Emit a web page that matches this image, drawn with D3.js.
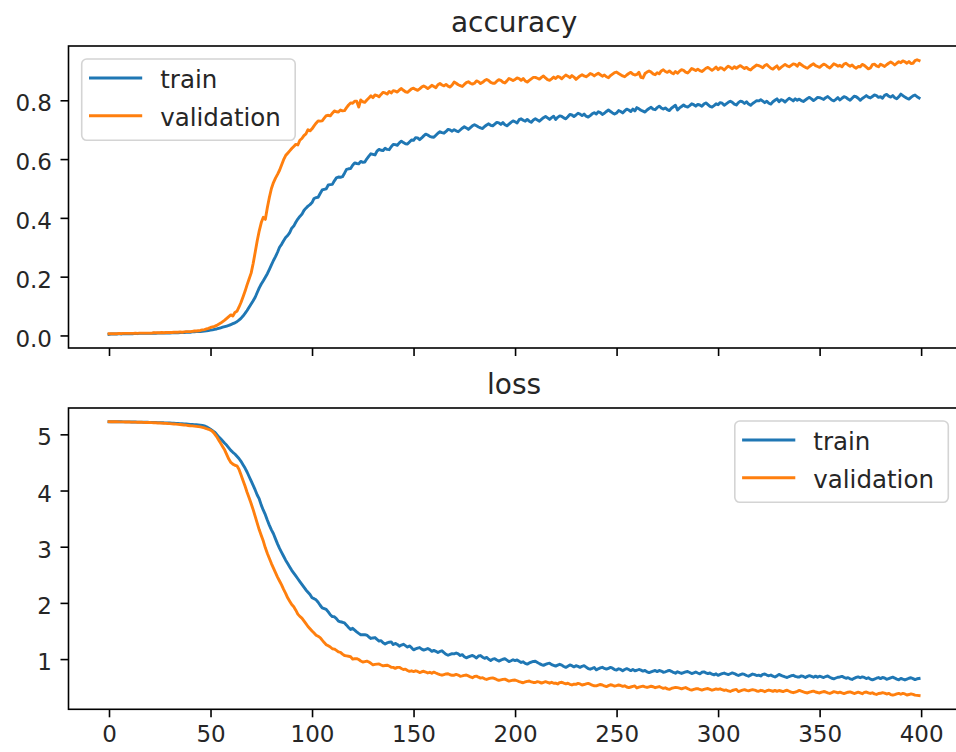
<!DOCTYPE html>
<html>
<head>
<meta charset="utf-8">
<script src="https://cdn.jsdelivr.net/npm/d3@7/dist/d3.min.js"></script>
<style>
  body { margin: 0; background: #fff; }
  svg { display: block; }
  text { font-family: "DejaVu Sans", sans-serif; fill: #262626; }
</style>
</head>
<body>
<svg id="chart" width="956" height="752"></svg>
<script>
// ---- training history, one value per epoch (0..399) ----
const epochs = d3.range(400);

const accTrain = [
0.004,0.005,0.005,0.005,0.005,0.006,0.005,0.006,0.006,0.006,
0.006,0.006,0.006,0.007,0.006,0.007,0.007,0.007,0.007,0.007,
0.007,0.007,0.008,0.007,0.008,0.008,0.008,0.008,0.008,0.009,
0.008,0.009,0.009,0.009,0.009,0.010,0.010,0.010,0.011,0.011,
0.011,0.012,0.012,0.013,0.013,0.013,0.014,0.015,0.016,0.017,
0.018,0.019,0.021,0.022,0.024,0.026,0.028,0.030,0.032,0.034,
0.037,0.040,0.043,0.047,0.052,0.058,0.066,0.075,0.085,0.096,
0.107,0.118,0.130,0.146,0.162,0.175,0.186,0.198,0.210,0.225,
0.240,0.255,0.268,0.283,0.300,0.310,0.322,0.333,0.340,0.350,
0.365,0.372,0.385,0.396,0.405,0.412,0.425,0.433,0.440,0.445,
0.452,0.466,0.469,0.470,0.483,0.495,0.497,0.499,0.512,0.513,
0.514,0.526,0.536,0.539,0.538,0.540,0.552,0.565,0.567,0.568,
0.579,0.587,0.585,0.584,0.592,0.589,0.590,0.601,0.610,0.618,
0.616,0.614,0.627,0.633,0.630,0.629,0.637,0.633,0.632,0.642,
0.650,0.649,0.647,0.655,0.661,0.656,0.652,0.651,0.658,0.665,
0.664,0.673,0.672,0.666,0.672,0.679,0.685,0.682,0.677,0.675,
0.674,0.681,0.688,0.693,0.690,0.688,0.694,0.701,0.699,0.695,
0.700,0.696,0.693,0.699,0.705,0.710,0.706,0.701,0.707,0.713,
0.717,0.713,0.709,0.706,0.704,0.711,0.716,0.720,0.715,0.713,
0.719,0.725,0.723,0.718,0.724,0.717,0.713,0.719,0.725,0.730,
0.727,0.723,0.734,0.737,0.732,0.729,0.735,0.729,0.725,0.733,
0.737,0.733,0.729,0.735,0.741,0.745,0.740,0.735,0.741,0.746,
0.735,0.742,0.747,0.745,0.740,0.737,0.744,0.752,0.750,0.745,
0.750,0.756,0.753,0.748,0.753,0.746,0.743,0.748,0.754,0.758,
0.753,0.761,0.758,0.752,0.756,0.762,0.767,0.762,0.757,0.753,
0.757,0.765,0.762,0.757,0.764,0.770,0.767,0.762,0.770,0.764,
0.775,0.771,0.766,0.763,0.760,0.767,0.772,0.776,0.770,0.768,
0.775,0.780,0.774,0.770,0.774,0.768,0.765,0.773,0.778,0.783,
0.767,0.774,0.779,0.784,0.779,0.777,0.782,0.788,0.785,0.780,
0.786,0.784,0.780,0.787,0.791,0.785,0.779,0.777,0.782,0.788,
0.785,0.792,0.790,0.783,0.788,0.793,0.797,0.793,0.787,0.784,
0.792,0.797,0.795,0.789,0.795,0.787,0.783,0.789,0.794,0.799,
0.798,0.802,0.797,0.792,0.797,0.790,0.787,0.795,0.800,0.805,
0.795,0.802,0.800,0.794,0.801,0.807,0.803,0.798,0.805,0.800,
0.804,0.799,0.796,0.801,0.806,0.810,0.805,0.799,0.804,0.810,
0.809,0.806,0.803,0.809,0.813,0.807,0.801,0.798,0.803,0.809,
0.801,0.807,0.812,0.810,0.804,0.800,0.807,0.814,0.812,0.807,
0.800,0.806,0.811,0.816,0.811,0.808,0.813,0.818,0.816,0.810,
0.812,0.807,0.817,0.820,0.814,0.811,0.816,0.809,0.805,0.812,
0.821,0.816,0.811,0.807,0.804,0.810,0.815,0.818,0.812,0.808
];

const accVal = [
0.006,0.006,0.006,0.006,0.006,0.007,0.006,0.007,0.007,0.007,
0.007,0.007,0.007,0.008,0.007,0.008,0.008,0.008,0.008,0.008,
0.008,0.008,0.009,0.009,0.009,0.009,0.010,0.009,0.010,0.010,
0.010,0.010,0.011,0.011,0.011,0.012,0.011,0.012,0.013,0.013,
0.013,0.014,0.015,0.015,0.016,0.017,0.019,0.020,0.022,0.024,
0.027,0.029,0.031,0.034,0.038,0.042,0.047,0.052,0.058,0.064,
0.070,0.066,0.078,0.082,0.096,0.112,0.131,0.150,0.172,0.192,
0.212,0.245,0.283,0.322,0.356,0.384,0.402,0.395,0.435,0.470,
0.500,0.520,0.535,0.548,0.562,0.580,0.598,0.612,0.620,0.628,
0.636,0.643,0.650,0.648,0.664,0.670,0.680,0.686,0.700,0.696,
0.703,0.713,0.722,0.730,0.729,0.730,0.739,0.748,0.749,0.747,
0.756,0.764,0.761,0.760,0.767,0.764,0.765,0.775,0.784,0.791,
0.790,0.797,0.797,0.777,0.801,0.795,0.793,0.801,0.808,0.815,
0.809,0.818,0.816,0.812,0.820,0.827,0.825,0.821,0.830,0.825,
0.833,0.831,0.828,0.835,0.840,0.834,0.829,0.827,0.833,0.839,
0.841,0.837,0.834,0.839,0.845,0.849,0.845,0.840,0.845,0.851,
0.847,0.843,0.853,0.857,0.852,0.849,0.854,0.848,0.845,0.852,
0.862,0.858,0.853,0.850,0.847,0.854,0.860,0.863,0.858,0.855,
0.858,0.866,0.863,0.857,0.861,0.867,0.871,0.867,0.861,0.858,
0.858,0.865,0.870,0.868,0.862,0.859,0.866,0.874,0.871,0.867,
0.871,0.876,0.874,0.868,0.874,0.866,0.862,0.868,0.873,0.878,
0.878,0.875,0.872,0.878,0.883,0.876,0.870,0.868,0.873,0.879,
0.874,0.881,0.879,0.873,0.880,0.886,0.882,0.877,0.884,0.879,
0.871,0.877,0.883,0.887,0.883,0.880,0.885,0.891,0.888,0.883,
0.888,0.892,0.887,0.882,0.886,0.880,0.877,0.884,0.889,0.894,
0.896,0.891,0.887,0.883,0.880,0.886,0.891,0.895,0.889,0.886,
0.888,0.895,0.878,0.876,0.891,0.896,0.900,0.896,0.890,0.887,
0.894,0.890,0.900,0.904,0.898,0.895,0.900,0.894,0.890,0.898,
0.892,0.899,0.904,0.902,0.896,0.893,0.900,0.908,0.905,0.901,
0.906,0.901,0.898,0.903,0.909,0.912,0.907,0.902,0.907,0.913,
0.904,0.911,0.909,0.903,0.910,0.916,0.912,0.907,0.914,0.909,
0.914,0.918,0.913,0.908,0.912,0.906,0.903,0.910,0.915,0.920,
0.918,0.915,0.911,0.918,0.922,0.915,0.909,0.906,0.912,0.917,
0.906,0.912,0.917,0.922,0.917,0.914,0.919,0.924,0.922,0.916,
0.926,0.921,0.916,0.912,0.909,0.915,0.920,0.924,0.918,0.915,
0.912,0.918,0.923,0.920,0.914,0.910,0.917,0.924,0.921,0.916,
0.919,0.914,0.923,0.926,0.920,0.916,0.920,0.913,0.909,0.915,
0.914,0.922,0.919,0.913,0.907,0.910,0.921,0.923,0.917,0.914,
0.923,0.919,0.915,0.921,0.926,0.930,0.926,0.920,0.926,0.931,
0.928,0.934,0.931,0.926,0.932,0.925,0.926,0.935,0.938,0.935
];

const lossTrain = [
5.225,5.225,5.224,5.224,5.224,5.223,5.223,5.222,5.222,5.221,
5.221,5.220,5.220,5.219,5.218,5.218,5.217,5.216,5.215,5.214,
5.213,5.212,5.211,5.210,5.209,5.208,5.207,5.205,5.204,5.202,
5.201,5.199,5.197,5.195,5.193,5.191,5.189,5.186,5.184,5.181,
5.178,5.176,5.173,5.170,5.167,5.164,5.158,5.150,5.135,5.112,
5.090,5.066,5.040,5.000,4.958,4.920,4.880,4.840,4.805,4.760,
4.715,4.680,4.650,4.610,4.570,4.520,4.460,4.400,4.330,4.250,
4.170,4.090,4.010,3.920,3.850,3.740,3.650,3.570,3.470,3.380,
3.300,3.230,3.140,3.050,2.970,2.900,2.830,2.760,2.700,2.640,
2.580,2.530,2.480,2.430,2.380,2.330,2.280,2.230,2.190,2.150,
2.092,2.075,2.055,2.011,1.958,1.911,1.897,1.883,1.839,1.789,
1.757,1.754,1.721,1.676,1.664,1.655,1.643,1.604,1.562,1.526,
1.547,1.516,1.485,1.457,1.432,1.434,1.433,1.426,1.392,1.367,
1.376,1.383,1.350,1.321,1.328,1.291,1.270,1.289,1.300,1.307,
1.258,1.279,1.260,1.229,1.250,1.263,1.240,1.213,1.234,1.203,
1.164,1.182,1.195,1.205,1.178,1.160,1.173,1.187,1.168,1.138,
1.155,1.138,1.117,1.136,1.147,1.114,1.085,1.068,1.083,1.098,
1.093,1.109,1.092,1.064,1.079,1.043,1.022,1.038,1.053,1.065,
1.044,1.020,1.055,1.063,1.034,1.014,1.029,0.997,0.976,1.000,
1.007,0.984,0.964,0.981,0.997,1.006,0.982,0.955,0.971,0.988,
0.974,0.985,0.961,0.940,0.952,0.924,0.910,0.932,0.947,0.958,
0.962,0.941,0.919,0.902,0.888,0.906,0.920,0.927,0.902,0.888,
0.874,0.892,0.907,0.893,0.869,0.852,0.873,0.895,0.882,0.861,
0.883,0.870,0.853,0.872,0.883,0.857,0.832,0.820,0.834,0.850,
0.808,0.827,0.842,0.854,0.834,0.821,0.836,0.851,0.838,0.814,
0.804,0.827,0.815,0.791,0.814,0.830,0.814,0.794,0.817,0.793,
0.801,0.815,0.804,0.785,0.798,0.773,0.759,0.773,0.786,0.797,
0.777,0.797,0.786,0.764,0.774,0.788,0.798,0.782,0.762,0.749,
0.774,0.758,0.744,0.758,0.771,0.779,0.762,0.743,0.756,0.770,
0.753,0.737,0.765,0.773,0.754,0.741,0.754,0.732,0.719,0.738,
0.710,0.727,0.741,0.751,0.735,0.725,0.739,0.753,0.742,0.723,
0.707,0.724,0.737,0.727,0.708,0.695,0.714,0.734,0.724,0.707,
0.715,0.699,0.728,0.735,0.716,0.703,0.717,0.695,0.681,0.701,
0.727,0.711,0.695,0.682,0.672,0.689,0.703,0.711,0.692,0.682,
0.681,0.701,0.691,0.672,0.692,0.706,0.693,0.677,0.697,0.678,
0.695,0.685,0.672,0.689,0.700,0.678,0.659,0.649,0.663,0.677,
0.682,0.693,0.674,0.659,0.670,0.648,0.638,0.658,0.673,0.684,
0.668,0.682,0.673,0.654,0.668,0.644,0.631,0.645,0.659,0.671,
0.652,0.672,0.663,0.641,0.652,0.667,0.678,0.662,0.643,0.631,
0.657,0.642,0.629,0.644,0.659,0.668,0.652,0.634,0.649,0.655
];

const lossVal = [
5.225,5.224,5.224,5.223,5.223,5.222,5.222,5.221,5.220,5.220,
5.219,5.218,5.218,5.217,5.216,5.215,5.214,5.213,5.212,5.211,
5.210,5.208,5.207,5.205,5.203,5.201,5.199,5.197,5.195,5.192,
5.190,5.187,5.184,5.181,5.178,5.175,5.171,5.167,5.163,5.158,
5.153,5.150,5.146,5.142,5.138,5.133,5.125,5.115,5.100,5.090,
5.075,5.050,5.010,4.960,4.900,4.840,4.780,4.720,4.640,4.560,
4.500,4.470,4.450,4.440,4.380,4.280,4.180,4.080,3.970,3.870,
3.770,3.660,3.540,3.420,3.300,3.200,3.100,2.980,2.880,2.790,
2.700,2.620,2.540,2.460,2.390,2.320,2.240,2.170,2.090,2.030,
1.970,1.930,1.870,1.800,1.760,1.730,1.680,1.630,1.580,1.540,
1.500,1.463,1.424,1.405,1.382,1.337,1.294,1.257,1.236,1.215,
1.184,1.178,1.155,1.127,1.120,1.088,1.063,1.057,1.050,1.042,
1.000,1.006,1.009,0.992,0.967,0.948,0.956,0.964,0.947,0.925,
0.898,0.906,0.911,0.914,0.895,0.880,0.886,0.891,0.877,0.855,
0.853,0.834,0.852,0.853,0.832,0.815,0.821,0.797,0.781,0.792,
0.778,0.791,0.780,0.761,0.774,0.783,0.769,0.752,0.766,0.747,
0.768,0.752,0.737,0.724,0.713,0.725,0.735,0.739,0.721,0.711,
0.713,0.727,0.716,0.695,0.701,0.710,0.717,0.701,0.682,0.669,
0.690,0.697,0.678,0.662,0.669,0.648,0.637,0.651,0.660,0.666,
0.653,0.636,0.622,0.631,0.639,0.643,0.626,0.607,0.616,0.624,
0.628,0.614,0.600,0.588,0.579,0.593,0.604,0.610,0.593,0.584,
0.583,0.598,0.589,0.572,0.587,0.598,0.586,0.571,0.587,0.570,
0.573,0.558,0.582,0.587,0.571,0.559,0.570,0.551,0.539,0.555,
0.551,0.567,0.558,0.539,0.547,0.558,0.567,0.553,0.536,0.525,
0.523,0.537,0.548,0.539,0.522,0.511,0.527,0.543,0.534,0.520,
0.528,0.539,0.530,0.514,0.525,0.503,0.492,0.503,0.514,0.522,
0.486,0.499,0.510,0.518,0.504,0.495,0.506,0.517,0.508,0.491,
0.502,0.511,0.494,0.480,0.489,0.470,0.461,0.477,0.488,0.497,
0.491,0.482,0.470,0.484,0.493,0.474,0.458,0.449,0.460,0.471,
0.473,0.459,0.447,0.459,0.470,0.476,0.462,0.446,0.457,0.468,
0.462,0.471,0.455,0.442,0.451,0.433,0.424,0.441,0.452,0.461,
0.421,0.435,0.446,0.456,0.442,0.434,0.446,0.457,0.449,0.433,
0.428,0.444,0.436,0.420,0.437,0.449,0.438,0.425,0.442,0.426,
0.441,0.432,0.421,0.436,0.445,0.427,0.411,0.402,0.414,0.426,
0.443,0.429,0.416,0.405,0.397,0.411,0.423,0.429,0.414,0.405,
0.397,0.411,0.423,0.414,0.398,0.388,0.404,0.421,0.412,0.399,
0.411,0.397,0.386,0.398,0.410,0.417,0.403,0.387,0.399,0.411,
0.398,0.384,0.408,0.415,0.399,0.388,0.400,0.381,0.370,0.387,
0.391,0.403,0.394,0.378,0.390,0.369,0.358,0.369,0.381,0.390,
0.374,0.389,0.380,0.361,0.369,0.380,0.372,0.358,0.354,0.350
];

const seriesNames = ["train", "validation"];
const seriesColors = ["#1f77b4", "#ff7f0e"];
const xTickValues = [0, 50, 100, 150, 200, 250, 300, 350, 400];
const accTickValues = [0.0, 0.2, 0.4, 0.6, 0.8];
const lossTickValues = [1, 2, 3, 4, 5];

// ---- layout ----
const svg = d3.select("#chart");
svg.append("rect").attr("width", 956).attr("height", 752).attr("fill", "#fff");

const axLeft = 68.5, axRight = 959.6;
const panels = [
  { title: "accuracy", top: 46, bottom: 348, series: [accTrain, accVal],
    ticks: accTickValues, fmt: d3.format(".1f"), xLabels: false, legend: "left" },
  { title: "loss", top: 408, bottom: 709.3, series: [lossTrain, lossVal],
    ticks: lossTickValues, fmt: d3.format("d"), xLabels: true, legend: "right" }
];

// 5% data margins on each axis
function padded(lo, hi) { const m = (hi - lo) * 0.05; return [lo - m, hi + m]; }

const x = d3.scaleLinear()
  .domain(padded(d3.min(epochs), d3.max(epochs)))
  .range([axLeft, axRight]);

const TICK_FONT = 23, LEGEND_FONT = 24.5, TITLE_FONT = 28;
const SPINE_W = 1.6, TICK_LEN = 8, LINE_W = 2.9;

panels.forEach((p, pi) => {
  const all = p.series.flat();
  const y = d3.scaleLinear()
    .domain(padded(d3.min(all), d3.max(all)))
    .range([p.bottom, p.top]);

  const g = svg.append("g");

  // clip so lines stay inside the axes box
  const clipId = "clip" + pi;
  svg.append("clipPath").attr("id", clipId)
    .append("rect").attr("x", axLeft).attr("y", p.top)
    .attr("width", axRight - axLeft).attr("height", p.bottom - p.top);

  const line = d3.line()
    .x((d, i) => x(epochs[i]))
    .y(d => y(d));

  const lines = g.append("g").attr("clip-path", `url(#${clipId})`);
  p.series.forEach((s, si) => {
    lines.append("path")
      .attr("d", line(s))
      .attr("fill", "none")
      .attr("stroke", seriesColors[si])
      .attr("stroke-width", LINE_W)
      .attr("stroke-linejoin", "round")
      .attr("stroke-linecap", "square");
  });

  // axes frame
  g.append("rect")
    .attr("x", axLeft).attr("y", p.top)
    .attr("width", axRight - axLeft).attr("height", p.bottom - p.top)
    .attr("fill", "none").attr("stroke", "#000").attr("stroke-width", SPINE_W);

  // y axis
  const yAxis = g.append("g").attr("transform", `translate(${axLeft},0)`)
    .call(d3.axisLeft(y).tickValues(p.ticks).tickFormat(p.fmt)
      .tickSize(TICK_LEN).tickPadding(8.5));
  yAxis.select(".domain").remove();
  yAxis.selectAll(".tick line").attr("stroke", "#000").attr("stroke-width", SPINE_W);
  yAxis.selectAll(".tick text")
    .attr("fill", "#262626").attr("dy", "0.46em")
    .style("font-size", TICK_FONT + "px").style("font-family", "DejaVu Sans, sans-serif");

  // x axis (labels only on the bottom panel)
  const xAxis = g.append("g").attr("transform", `translate(0,${p.bottom})`)
    .call(d3.axisBottom(x).tickValues(xTickValues)
      .tickFormat(p.xLabels ? d3.format("d") : () => "")
      .tickSize(TICK_LEN).tickPadding(7.5));
  xAxis.select(".domain").remove();
  xAxis.selectAll(".tick line").attr("stroke", "#000").attr("stroke-width", SPINE_W);
  xAxis.selectAll(".tick text")
    .attr("fill", "#262626").attr("dy", "0.75em")
    .style("font-size", TICK_FONT + "px").style("font-family", "DejaVu Sans, sans-serif");

  // title
  g.append("text")
    .attr("x", (axLeft + axRight) / 2).attr("y", p.top - 14)
    .attr("text-anchor", "middle")
    .style("font-size", TITLE_FONT + "px")
    .text(p.title);

  // legend
  const boxW = 213.5, boxH = 81.3;
  const boxX = p.legend === "left" ? axLeft + 13.2 : axRight - 11.3 - boxW;
  const boxY = p.top + 13;
  const lg = g.append("g").attr("transform", `translate(${boxX},${boxY})`);
  lg.append("rect")
    .attr("x", 0).attr("y", 0).attr("width", boxW).attr("height", boxH)
    .attr("rx", 5).attr("ry", 5)
    .attr("fill", "#fff").attr("fill-opacity", 0.8)
    .attr("stroke", "#d4d4d4").attr("stroke-width", 1.6);
  seriesNames.forEach((name, si) => {
    const ly = 19 + si * 37.8;
    lg.append("line")
      .attr("x1", 7.3).attr("x2", 60.5).attr("y1", ly).attr("y2", ly)
      .attr("stroke", seriesColors[si]).attr("stroke-width", LINE_W);
    lg.append("text")
      .attr("x", 78.5).attr("y", ly + 10.4)
      .style("font-size", LEGEND_FONT + "px")
      .text(name);
  });
});
</script>
</body>
</html>
